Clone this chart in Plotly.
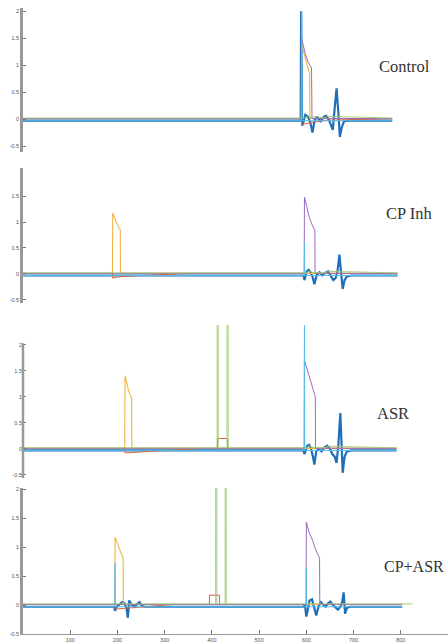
import plotly.graph_objects as go

W, H = 448, 644

# ---------------- data ----------------
panel_labels = ["Control", "CP Inh", "ASR", "CP+ASR"]
x_tick_vals = [100, 200, 300, 400, 500, 600, 700, 800, 900]
y_tick_vals = [-0.5, 0, 0.5, 1, 1.5, 2]
y_tick_text = ["-0.5", "0", "0.5", "1", "1.5", "2"]

# Panel 1 : Control
blue1_x = [0, 588, 589, 591, 594, 598, 603, 608, 613, 618, 623, 630, 637, 642, 648, 653, 656, 660, 664, 668, 671, 675, 680, 690, 782]
blue1_y = [-0.03, -0.03, 2.0, -0.12, -0.05, 0.08, 0.05, -0.05, -0.25, 0.0, 0.03, -0.04, 0.04, 0.06, -0.02, -0.15, -0.2, 0.2, 0.57, 0.1, -0.33, -0.15, -0.04, -0.03, -0.03]
red1_x = [0, 589.5, 590, 600, 620, 650, 782]
red1_y = [0.01, 0.01, -0.1, -0.08, -0.05, -0.02, 0.01]
yellow1_x = [0, 589.5, 590, 594, 600, 607, 607.5, 782]
yellow1_y = [0.01, 0.01, 1.4, 1.25, 1.05, 0.85, 0.01, 0.01]
purple1_x = [0, 589.5, 590, 594, 598, 604, 611, 612, 782]
purple1_y = [0.01, 0.01, 1.5, 1.32, 1.2, 1.05, 0.95, 0.01, 0.01]
green1_x = [0, 598, 603, 610, 620, 640, 645, 782]
green1_y = [0.02, 0.02, 0.06, 0.03, 0.05, 0.02, 0.05, 0.02]
lblue1_x = [0, 589, 590, 591, 782]
lblue1_y = [-0.03, -0.03, 2.0, -0.03, -0.03]

# Panel 2 : CP Inh
blue2_x = [0, 594, 596, 598, 601, 605, 609, 613, 617, 622, 628, 634, 640, 646, 652, 657, 662, 666, 670, 674, 677, 681, 686, 695, 793]
blue2_y = [-0.03, -0.03, -0.12, -0.03, 0.05, 0.08, 0.03, -0.05, -0.2, -0.02, 0.03, -0.03, 0.02, 0.05, -0.03, -0.12, -0.08, 0.05, 0.37, 0.0, -0.29, -0.12, -0.05, -0.03, -0.03]
red2_x = [0, 189.5, 190, 200, 230, 280, 350, 793]
red2_y = [0.01, 0.01, -0.08, -0.06, -0.04, -0.02, 0.01, 0.01]
yellow2_x = [0, 189.5, 190, 195, 200, 206, 206.5, 793]
yellow2_y = [0.01, 0.01, 1.17, 1.05, 0.95, 0.85, 0.01, 0.01]
purple2_x = [0, 595.5, 596, 600, 606, 612, 618, 618.5, 793]
purple2_y = [0.01, 0.01, 1.48, 1.3, 1.1, 0.95, 0.85, 0.01, 0.01]
green2_x = [0, 600, 606, 612, 640, 646, 793]
green2_y = [0.02, 0.02, 0.06, 0.03, 0.02, 0.05, 0.02]
lblue2_x = [0, 595.5, 596, 596.5, 793]
lblue2_y = [-0.03, -0.03, 0.6, -0.03, -0.03]

# Panel 3 : ASR
blue3_x = [0, 594, 596, 598, 602, 606, 610, 614, 617, 621, 626, 632, 638, 644, 650, 655, 660, 664, 668, 672, 677, 681, 686, 695, 791]
blue3_y = [-0.03, -0.03, -0.1, -0.03, 0.06, 0.08, 0.0, -0.15, -0.3, -0.05, 0.0, -0.05, 0.02, 0.06, 0.0, -0.1, -0.15, -0.27, 0.1, 0.69, -0.46, -0.15, -0.05, -0.03, -0.03]
red3_x = [0, 215.5, 216, 240, 280, 330, 380, 411.5, 412, 433, 433.5, 791]
red3_y = [0.01, 0.01, -0.08, -0.06, -0.04, -0.02, 0.01, 0.01, 0.2, 0.2, 0.01, 0.01]
yellow3_x = [0, 215.5, 216, 219, 224, 230, 230.5, 791]
yellow3_y = [0.01, 0.01, 1.4, 1.3, 1.1, 0.98, 0.01, 0.01]
purple3_x = [0, 595.5, 596, 604, 610, 613, 619, 619.5, 791]
purple3_y = [0.01, 0.01, 1.7, 1.45, 1.3, 1.22, 1.0, 0.01, 0.01]
green3_x = [0, 411, 411.2, 413.3, 413.5, 432, 432.2, 434.3, 434.5, 600, 606, 612, 640, 646, 791]
green3_y = [0.02, 0.02, 3.0, 3.0, 0.02, 0.02, 3.0, 3.0, 0.02, 0.02, 0.06, 0.03, 0.02, 0.05, 0.02]
lblue3_x = [0, 595.5, 596, 596.5, 791]
lblue3_y = [-0.03, -0.03, 3.0, -0.03, -0.03]

# Panel 4 : CP+ASR
blue4_x = [0, 193, 195, 197, 200, 205, 210, 215, 219, 222, 225, 230, 236, 242, 247, 252, 260, 594, 597, 600, 603, 607, 612, 616, 621, 626, 631, 636, 641, 646, 651, 656, 662, 667, 672, 676, 679, 682, 686, 692, 700, 803]
blue4_y = [-0.03, -0.03, -0.1, -0.05, -0.02, 0.02, 0.05, 0.03, -0.05, -0.22, 0.08, 0.0, -0.03, 0.02, 0.05, -0.02, -0.03, -0.03, 0.0, -0.2, -0.05, 0.08, 0.1, -0.05, -0.18, -0.02, 0.05, 0.0, -0.03, 0.03, 0.06, 0.0, -0.05, -0.08, -0.03, 0.05, 0.22, -0.15, -0.05, -0.03, -0.03, -0.03]
red4_x = [0, 194.5, 195, 210, 240, 280, 320, 394.5, 395, 416, 416.5, 803]
red4_y = [0.01, 0.01, -0.07, -0.06, -0.04, -0.02, 0.01, 0.01, 0.17, 0.17, 0.01, 0.01]
yellow4_x = [0, 194.5, 195, 200, 206, 212, 212.5, 803]
yellow4_y = [0.01, 0.01, 1.17, 1.05, 0.93, 0.81, 0.01, 0.01]
purple4_x = [0, 599.5, 600, 606, 613, 620, 628, 628.5, 803]
purple4_y = [0.01, 0.01, 1.43, 1.25, 1.12, 0.95, 0.81, 0.01, 0.01]
green4_x = [0, 408, 408.2, 410.3, 410.5, 428, 428.2, 430.3, 430.5, 825]
green4_y = [0.02, 0.02, 3.0, 3.0, 0.02, 0.02, 3.0, 3.0, 0.02, 0.02]
lblue4_x = [0, 194.5, 195, 195.5, 599.5, 600, 600.5, 803]
lblue4_y = [-0.03, -0.03, 0.72, -0.03, -0.03, 0.64, -0.03, -0.03]

# ---------------- styles ----------------
C_BLUE = "#1f6fb8"
C_RED = "#e0603a"
C_YEL = "#f0b440"
C_PUR = "#9a6cc0"
C_GRN = "#9cc870"
C_LBL = "#58bde9"

panels = [
    [(blue1_x, blue1_y), (red1_x, red1_y), (yellow1_x, yellow1_y), (purple1_x, purple1_y), (green1_x, green1_y), (lblue1_x, lblue1_y)],
    [(blue2_x, blue2_y), (red2_x, red2_y), (yellow2_x, yellow2_y), (purple2_x, purple2_y), (green2_x, green2_y), (lblue2_x, lblue2_y)],
    [(blue3_x, blue3_y), (red3_x, red3_y), (yellow3_x, yellow3_y), (purple3_x, purple3_y), (green3_x, green3_y), (lblue3_x, lblue3_y)],
    [(blue4_x, blue4_y), (red4_x, red4_y), (yellow4_x, yellow4_y), (purple4_x, purple4_y), (green4_x, green4_y), (lblue4_x, lblue4_y)],
]
colors = [C_BLUE, C_RED, C_YEL, C_PUR, C_GRN, C_LBL]
widths = [2.2, 1.0, 1.1, 1.0, 0.9, 1.0]

# pixel layout of the panels (top, bottom) and y ranges
panel_px = [(8, 152), (168, 303), (325, 478), (488, 634)]
y_ranges = [[-0.61, 2.06], [-0.56, 2.04], [-0.56, 2.38], [-0.5, 2.02]]
panel_ticks = [
    (y_tick_vals, y_tick_text),
    (y_tick_vals[:-1], y_tick_text[:-1]),
    (y_tick_vals, y_tick_text),
    (y_tick_vals, y_tick_text),
]
label_pos = [(404, 66, "center"), (409, 213, "center"), (393, 413, "center"), (446, 566, "right")]
label_size = [16.5, 16.5, 16.5, 16]

fig = go.Figure()
for p, series in enumerate(panels):
    xa = "x" if p == 0 else f"x{p+1}"
    ya = "y" if p == 0 else f"y{p+1}"
    for (xs, ys), c, w in zip(series, colors, widths):
        fig.add_trace(go.Scatter(x=xs, y=ys, mode="lines", xaxis=xa, yaxis=ya,
                                 line=dict(color=c, width=w), showlegend=False,
                                 hoverinfo="skip"))

layout = dict(
    width=W, height=H,
    margin=dict(l=23, r=0, t=0, b=0),
    paper_bgcolor="white", plot_bgcolor="white",
    showlegend=False,
)
tick_font = dict(family="Liberation Sans, Arial", size=5.5, color="#555")
for p in range(4):
    top, bot = panel_px[p]
    dom = [1 - bot / H, 1 - top / H]
    xk = "xaxis" if p == 0 else f"xaxis{p+1}"
    yk = "yaxis" if p == 0 else f"yaxis{p+1}"
    yanchor = "y" if p == 0 else f"y{p+1}"
    xanchor = "x" if p == 0 else f"x{p+1}"
    last = (p == 3)
    layout[xk] = dict(
        domain=[0, 1], range=[0, 900], anchor=yanchor,
        showgrid=False, zeroline=False, fixedrange=True,
        visible=last,
        showline=last, linecolor="#999", linewidth=1,
        ticks="inside" if last else "", ticklen=4, tickcolor="#777",
        tickvals=x_tick_vals, ticktext=[str(v) for v in x_tick_vals],
        tickfont=tick_font, automargin=False,
    )
    tv, tt = panel_ticks[p]
    layout[yk] = dict(
        domain=dom, range=y_ranges[p], anchor=xanchor,
        showgrid=False, zeroline=False, fixedrange=True,
        showline=(p != 2), linecolor="#999", linewidth=2.5,
        ticks="inside", ticklen=3, tickcolor="#777",
        tickvals=tv, ticktext=tt, tickfont=tick_font, automargin=False,
    )

fig.update_layout(**layout)

# y-axis line of panel 3 (the green stimulus lines rise above its top)
fig.add_shape(type="line", xref="x3 domain", yref="y3", x0=0, x1=0,
              y0=-0.56, y1=2.03, line=dict(color="#999", width=2.5))

for (px, py, anc), txt, fs in zip(label_pos, panel_labels, label_size):
    fig.add_annotation(text=txt, xref="paper", yref="paper",
                       x=(px - 23) / (W - 23), y=1 - py / H,
                       xanchor=anc, yanchor="middle", showarrow=False,
                       font=dict(family="Liberation Serif, Times New Roman", size=fs, color="#333"))

fig.write_html("out.html")
